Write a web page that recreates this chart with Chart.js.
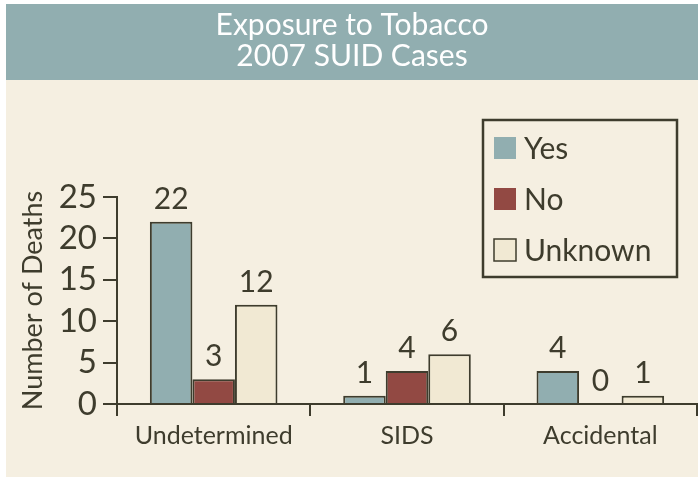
<!DOCTYPE html>
<html>
<head>
<meta charset="utf-8">
<title>Exposure to Tobacco - 2007 SUID Cases</title>
<script src="https://cdn.jsdelivr.net/npm/chart.js@4.4.1/dist/chart.umd.min.js"></script>
<style>
  html, body { margin: 0; padding: 0; background: #ffffff; }
  #wrap { position: relative; width: 698px; height: 477px; }
</style>
</head>
<body>
<div id="wrap"><canvas id="tobaccoChart" width="698" height="477"></canvas></div>
<script>
  // Chart data
  const categories = ['Undetermined', 'SIDS', 'Accidental'];
  const seriesNames = ['Yes', 'No', 'Unknown'];
  const yesValues = [22, 1, 4];
  const noValues = [3, 4, 0];
  const unknownValues = [12, 6, 1];
  const yTicks = [0, 5, 10, 15, 20, 25];
  const titleLines = ['Exposure to Tobacco', '2007 SUID Cases'];
  const yAxisTitle = 'Number of Deaths';

  // Colours
  const ink = '#3e3c2d';
  const banner = '#91aeb0';
  const cream = '#f5efe1';
  const barColors = ['#91aeb0', '#924943', '#f1e9d3'];
  const fontFamily = 'Lato, "Open Sans", sans-serif';

  // Background panel and title banner
  const backgroundPlugin = {
    id: 'panelBackground',
    beforeDraw(chart) {
      const ctx = chart.ctx;
      ctx.save();
      ctx.fillStyle = '#ffffff';
      ctx.fillRect(0, 0, chart.width, chart.height);
      ctx.fillStyle = cream;
      ctx.fillRect(6, 4, chart.width - 6, chart.height - 4);
      ctx.fillStyle = banner;
      ctx.fillRect(6, 4, chart.width - 6, 76);
      ctx.fillStyle = '#ffffff';
      ctx.font = '30px ' + fontFamily;
      ctx.textAlign = 'center';
      ctx.textBaseline = 'alphabetic';
      const cx = (6 + chart.width) / 2;
      ctx.fillText(titleLines[0], cx, 35);
      ctx.fillText(titleLines[1], cx, 66);
      ctx.restore();
    }
  };

  // Value labels above each bar
  const valueLabelPlugin = {
    id: 'valueLabels',
    afterDatasetsDraw(chart) {
      const ctx = chart.ctx;
      ctx.save();
      ctx.fillStyle = ink;
      ctx.font = '30px ' + fontFamily;
      ctx.textAlign = 'center';
      ctx.textBaseline = 'alphabetic';
      chart.data.datasets.forEach((ds, i) => {
        const meta = chart.getDatasetMeta(i);
        meta.data.forEach((bar, j) => {
          ctx.fillText(String(ds.data[j]), bar.x, bar.y - 13);
        });
      });
      ctx.restore();
    }
  };

  // Boxed legend in the upper right
  const boxLegendPlugin = {
    id: 'boxLegend',
    afterDraw(chart, args, opts) {
      const ctx = chart.ctx;
      const x = opts.x, y = opts.y, w = opts.width, h = opts.height;
      ctx.save();
      ctx.strokeStyle = ink;
      ctx.lineWidth = 2.5;
      ctx.strokeRect(x, y, w, h);
      ctx.font = '30px ' + fontFamily;
      ctx.textBaseline = 'middle';
      ctx.textAlign = 'left';
      chart.data.datasets.forEach((ds, i) => {
        const cy = y + opts.firstRow + i * opts.rowGap;
        ctx.fillStyle = ds.backgroundColor;
        ctx.fillRect(x + 11, cy - 11, 22, 22);
        if (i === 2) {
          ctx.lineWidth = 1.5;
          ctx.strokeRect(x + 11, cy - 11, 22, 22);
        }
        ctx.fillStyle = ink;
        ctx.fillText(ds.label, x + 41, cy + 1);
      });
      ctx.restore();
    }
  };

  const datasets = [yesValues, noValues, unknownValues].map((vals, i) => ({
    label: seriesNames[i],
    data: vals,
    backgroundColor: barColors[i],
    borderColor: ink,
    borderWidth: 2,
    borderSkipped: 'bottom',
    categoryPercentage: 0.66,
    barPercentage: 1.0
  }));

  new Chart(document.getElementById('tobaccoChart'), {
    type: 'bar',
    data: { labels: categories, datasets: datasets },
    plugins: [backgroundPlugin, valueLabelPlugin, boxLegendPlugin],
    options: {
      responsive: false,
      animation: false,
      layout: { padding: { top: 197, left: 6, right: 1, bottom: 0 } },
      plugins: {
        legend: { display: false },
        tooltip: { enabled: false },
        title: { display: false },
        boxLegend: { x: 483, y: 120, width: 194, height: 157, firstRow: 28, rowGap: 51 }
      },
      scales: {
        x: {
          afterFit(scale) { scale.height = 73; },
          grid: {
            display: true,
            offset: true,
            drawOnChartArea: false,
            drawTicks: true,
            tickLength: 12,
            color: ink,
            lineWidth: 2
          },
          border: { display: true, color: ink, width: 2 },
          ticks: {
            color: ink,
            font: { family: fontFamily, size: 25 },
            padding: 5
          }
        },
        y: {
          min: 0,
          max: 25,
          afterFit(scale) { scale.width = 111; },
          afterBuildTicks(scale) { scale.ticks = yTicks.map(v => ({ value: v })); },
          grid: {
            display: true,
            drawOnChartArea: false,
            drawTicks: true,
            tickLength: 14,
            color: ink,
            lineWidth: 2
          },
          border: { display: true, color: ink, width: 2 },
          ticks: {
            color: ink,
            autoSkip: false,
            font: { family: fontFamily, size: 33 },
            padding: 6
          },
          title: {
            display: true,
            text: yAxisTitle,
            color: ink,
            font: { family: fontFamily, size: 27 },
            padding: { top: 11, bottom: 0 }
          }
        }
      }
    }
  });
</script>
</body>
</html>
